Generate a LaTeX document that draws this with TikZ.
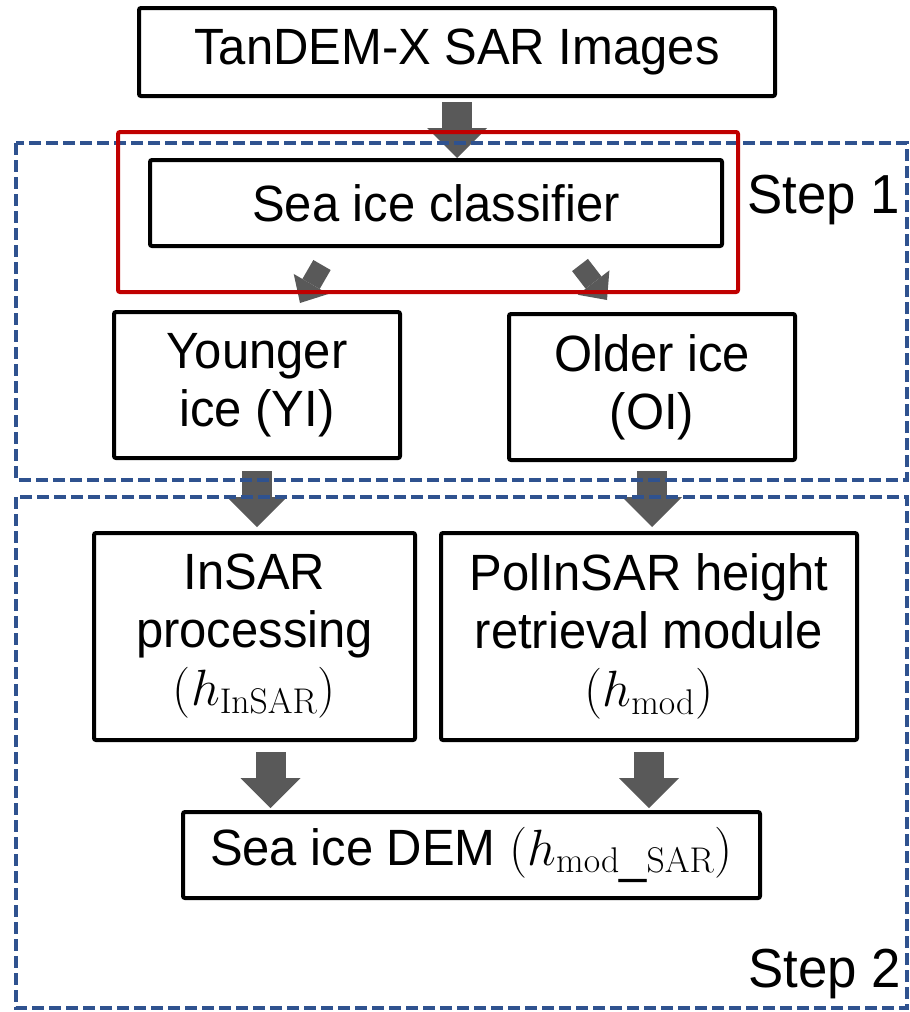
\documentclass[tikz,border=0pt]{standalone}
\usepackage{fix-cm}
\usepackage[no-math]{fontspec}
\setmainfont[FakeStretch=0.96]{Liberation Sans}
\usetikzlibrary{arrows.meta,calc}
\definecolor{arrowgray}{HTML}{595959}
\definecolor{stepblue}{HTML}{2F528F}
\definecolor{framered}{HTML}{C00000}

\begin{document}
\begin{tikzpicture}[x=0.5pt, y=-0.5pt,
  box/.style={draw, line width=2pt, rounded corners=1pt, align=center, inner sep=0pt,
    font=\fontsize{25.5}{29}\selectfont},
  fatarrow/.style={draw=arrowgray, line width=15pt,
    -{Triangle[width=30pt, length=15pt, line width=0pt]}},
  thinarrow/.style={draw=arrowgray, line width=10pt,
    -{Triangle[width=20pt, length=11pt, line width=0pt]}},
  stepframe/.style={draw=stepblue, line width=1.9pt, dash pattern=on 6pt off 2.5pt},
  steplabel/.style={anchor=base west, inner sep=0pt, font=\fontsize{27.5}{33}\selectfont}]
  \useasboundingbox (0,0) rectangle (910,1012);

  \node[box, minimum width=318pt, minimum height=44pt] (sar) at (457,52) {TanDEM-X SAR Images};
  \node[box, minimum width=286pt, minimum height=43pt] (cls) at (436,203) {Sea ice classifier};
  \node[box, minimum width=143pt, minimum height=73pt] (yi) at (257,385) {Younger\\ice (YI)};
  \node[box, minimum width=143pt, minimum height=73pt] (oi) at (652,387) {Older ice\\(OI)};
  \node[box, minimum width=160.5pt, minimum height=103.5pt] (insar) at (254.5,636.5)
    {InSAR\\processing\\$(h_{\mathrm{InSAR}})$};
  \node[box, minimum width=208pt, minimum height=103.5pt] (pol) at (649,636.5)
    {PolInSAR height\\retrieval module\\$(h_{\mathrm{mod}})$};
  \node[box, minimum width=288.5pt, minimum height=43pt] (dem) at (471.5,855)
    {Sea ice DEM $(h_{\mathrm{mod}\_\mathrm{SAR}})$};

  \coordinate (insarout) at ($(insar.south)+(16,0)$);

  \draw[fatarrow, shorten <=2pt] (sar.south) -- (sar.south |- cls.north);
  \draw[thinarrow] ($(cls.south)+(-114,17)$) -- ($(yi.north)+(43,-7)$);
  \draw[thinarrow] ($(cls.south)+(144,17)$) -- ($(oi.north)+(-45,-12)$);
  \draw[fatarrow, shorten <=5.5pt, shorten >=2pt] (yi.south) -- (yi.south |- insar.north);
  \draw[fatarrow, shorten <=4.5pt, shorten >=2pt] (oi.south) -- (oi.south |- pol.north);
  \draw[fatarrow, shorten <=5pt, shorten >=1pt] (insarout) -- (insarout |- dem.north);
  \draw[fatarrow, shorten <=5pt, shorten >=1pt] (pol.south) -- (pol.south |- dem.north);

  \draw[stepframe] (16,143) rectangle (907,480);
  \draw[stepframe] (16,497) rectangle (907,1008);
  \draw[framered, line width=2pt, rounded corners=1pt] (118,132) rectangle (738,292);

  \node[steplabel] (step1) at (747,213) {Step 1};
  \node[steplabel] (step2) at (748,987) {Step 2};
\end{tikzpicture}
\end{document}
